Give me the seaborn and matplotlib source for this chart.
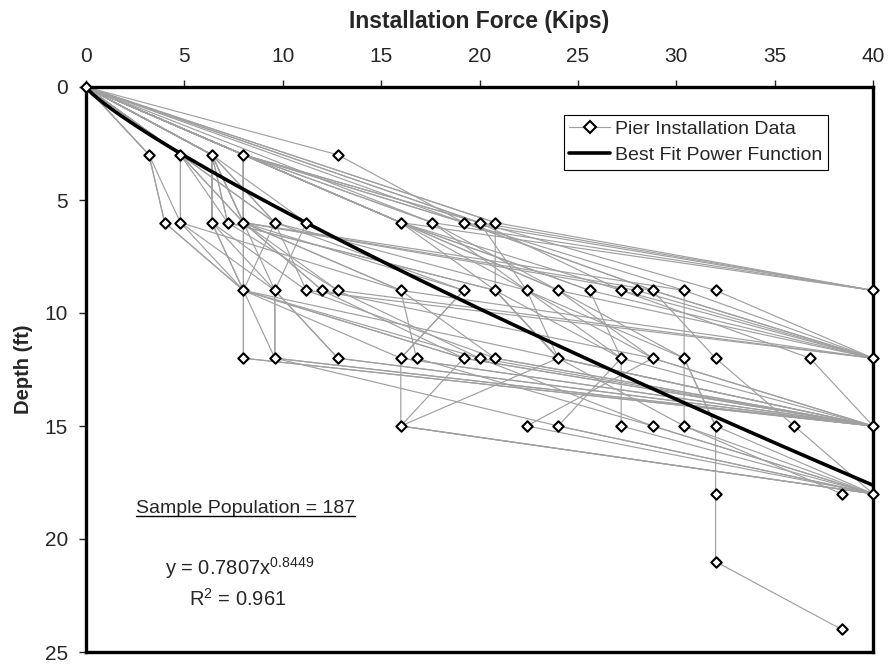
import numpy as np
import pandas as pd
import matplotlib
matplotlib.use("Agg")
import matplotlib.pyplot as plt
import seaborn as sns
from matplotlib.lines import Line2D

# depth readings every 3 ft
depth_steps = [0, 3, 6, 9, 12, 15, 18, 21, 24]

# installation force (kips) of each pier at each depth step, nan = no reading
nan = np.nan
pier_forces = [
    [0, 3.2, 4.0, 8.0, 8.0, 40],
    [0, 3.2, 4.8, 16.0, 20.8, 40],
    [0, 4.8, 4.8, 8.0, 24.0, 40],
    [0, 4.8, 4.8, 9.6, 12.8, 40],
    [0, 4.8, 8.0, 12.0, 28.8, 40],
    [0, 4.8, 9.6, 11.2, 40],
    [0, 6.4, 6.4, 8.0, 8.0, 40],
    [0, 6.4, 6.4, 9.6, 9.6, 40, 40],
    [0, 6.4, 7.2, 12.8, 40],
    [0, 6.4, 8.0, 16.0, 40],
    [0, 6.4, 9.6, 8.0, 19.2, 40],
    [0, 6.4, 6.4, 8.0, 20.0, 40, 40],
    [0, 6.4, 11.2, 9.6, 12.8, 40],
    [0, 8.0, 8.0, 8.0, 16.0, 16.0, 40],
    [0, 8.0, 8.0, 8.0, 19.2, 40],
    [0, 8.0, 16.0, 24.0, 40],
    [0, 8.0, 17.6, 40],
    [0, 8.0, 16.0, 40],
    [0, 8.0, 19.2, 40, 40],
    [0, 8.0, 20.0, 22.4, 24.0, 40],
    [0, 8.0, 16.0, 27.2, 40],
    [0, 12.8, 19.2, 28.8, 40],
    [0, nan, 16.0, 25.6, 40],
    [0, nan, 19.2, 30.4, 40],
    [0, nan, 20.0, 32.0, 40],
    [0, nan, 20.8, 20.8, 24.0, 40],
    [0, nan, 20.0, 40],
    [0, nan, 20.8, 40],
    [0, 8.0, 8.0, 28.0, 40],
    [0, 8.0, 8.0, 28.8, 40],
    [0, 6.4, 8.0, 30.4, 30.4, 30.4, 40],
    [0, 8.0, 16.0, 24.0, 30.4, 32.0, 32.0, 32.0, 38.4],
    [0, 6.4, 9.6, 19.2, 16.0, 40, 40],
    [0, 4.8, 8.0, 16.0, 16.8, 28.8, 40],
    [0, 6.4, 8.0, 19.2, 16.0, 40],
    [0, 8.0, 8.0, 12.0, 19.2, 16.0, 40],
    [0, 8.0, 16.0, 20.8, 24.0, 16.0, 40],
    [0, nan, 17.6, 22.4, 27.2, 27.2, 40],
    [0, 8.0, 17.6, 24.0, 28.8, 22.4, 40],
    [0, 8.0, 16.0, 25.6, 27.2, 24.0, 40],
    [0, 8.0, 20.0, 27.2, 36.8, 40, 40],
    [0, 8.0, 19.2, 28.8, 32.0, 36.0, 40],
    [0, 6.4, 7.2, 20.8, 27.2, 40, 40],
    [0, 4.8, 9.6, 22.4, 30.4, 32.0, 40],
    [0, 8.0, 8.0, 9.6, 9.6, 40, 40],
    [0, 6.4, 6.4, 11.2, 20.8, 40, 40],
    [0, 8.0, 8.0, 12.8, 20.0, 28.8, 40],
    [0, 4.8, 7.2, 20.8, 24.0, 30.4, 38.4],
    [0, 8.0, 16.0, 22.4, 28.8, 40, 40],
    [0, 3.2, 4.0, 8.0, 9.6, 24.0, 40],
]

# best fit power function shown on the chart: depth = a * force^b
fit_a = 0.7807
fit_b = 0.8449

rows = []
for i, forces in enumerate(pier_forces):
    for d, f in zip(depth_steps, forces):
        if not np.isnan(f):
            rows.append({"pier": i, "force": f, "depth": d})
df = pd.DataFrame(rows)

fit_x = np.linspace(0, 40, 200)
fit_y = fit_a * fit_x ** fit_b

sns.set_style("white")
plt.rcParams["font.family"] = ["Liberation Sans", "DejaVu Sans"]
plt.rcParams["mathtext.fontset"] = "custom"
plt.rcParams["mathtext.rm"] = "Liberation Sans"
plt.rcParams["mathtext.it"] = "Liberation Sans"
plt.rcParams["mathtext.bf"] = "Liberation Sans:bold"

fig = plt.figure(figsize=(8.89, 6.64), dpi=100)
ax = fig.add_axes([86 / 889, 1 - 652 / 664, 787 / 889, 565 / 664])

sns.lineplot(data=df, x="force", y="depth", units="pier", estimator=None,
             sort=False, color="#a0a0a0", linewidth=0.85, ax=ax, legend=False)
pts = df[["force", "depth"]].drop_duplicates()
sns.scatterplot(data=pts, x="force", y="depth", marker="D", s=28,
                color="white", edgecolor="black", linewidth=1.5,
                zorder=6, clip_on=False, ax=ax, legend=False)
sns.lineplot(x=fit_x, y=fit_y, color="black", linewidth=2.6, ax=ax,
             zorder=5, legend=False)

ax.set_xlim(0, 40)
ax.set_ylim(25, 0)
ax.set_xticks(range(0, 41, 5))
ax.set_yticks(range(0, 26, 5))
ax.xaxis.tick_top()
ax.xaxis.set_label_position("top")
ax.tick_params(axis="x", direction="out", length=5, width=1, labelsize=15, pad=10,
               top=True, bottom=False)
ax.tick_params(axis="y", direction="out", length=5, width=1, labelsize=15, pad=8,
               left=True)
for s in ax.spines.values():
    s.set_linewidth(2.4)
    s.set_color("black")
    s.set_zorder(4)

ax.set_xlabel("Installation Force (Kips)", fontsize=16.5, fontweight="bold", labelpad=14)
ax.set_ylabel("Depth (ft)", fontsize=14.5, fontweight="bold", labelpad=8)

handles = [
    Line2D([], [], color="#a0a0a0", linewidth=0.85, marker="D", markersize=6,
           markerfacecolor="white", markeredgecolor="black", markeredgewidth=1.5),
    Line2D([], [], color="black", linewidth=2.6),
]
leg = ax.legend(handles, ["Pier Installation Data", "Best Fit Power Function"],
                loc="upper right", bbox_to_anchor=(0.943, 0.951), fontsize=14,
                frameon=True, fancybox=False, framealpha=1, edgecolor="black",
                handlelength=2.1, handletextpad=0.25, borderpad=0.3,
                labelspacing=0.42, borderaxespad=0)
leg.get_frame().set_linewidth(0.8)

sample = ax.text(8.1, 18.65, "Sample Population = 187",
                 fontsize=14, ha="center", va="center")
ax.text(7.8, 21.3, r"y = 0.7807x$^{0.8449}$", fontsize=14.5, ha="center", va="center")
ax.text(7.7, 22.65, r"R$^{2}$ = 0.961", fontsize=14.5, ha="center", va="center")

# underline the sample population note
fig.canvas.draw()
bb = sample.get_window_extent(renderer=fig.canvas.get_renderer())
inv = fig.transFigure.inverted()
(x0, y0), (x1, y1) = inv.transform([(bb.x0, bb.y0 + 1), (bb.x1, bb.y0 + 1)])
fig.add_artist(Line2D([x0, x1], [y0, y1], color="black", linewidth=1.0))

fig.savefig("out.png", dpi=100)
